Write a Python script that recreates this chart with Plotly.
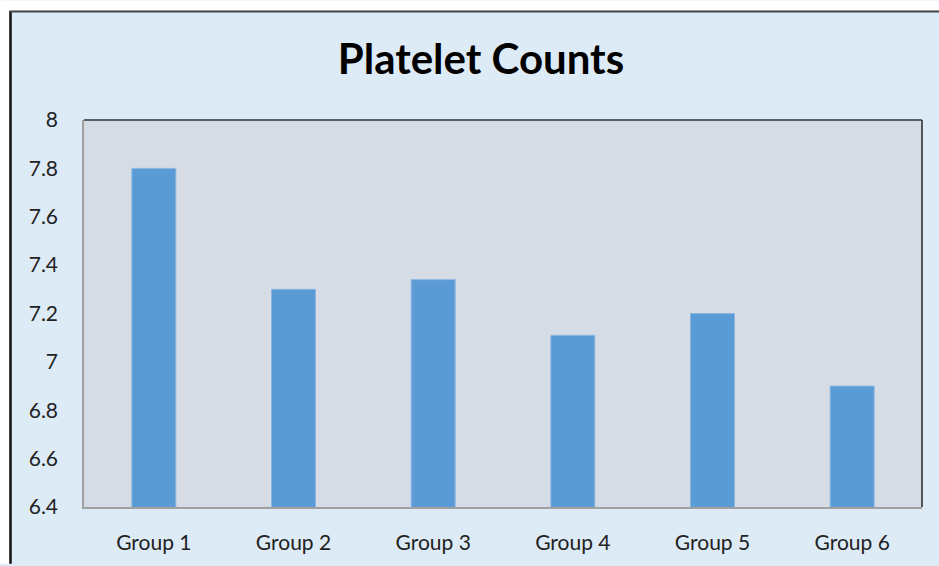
import plotly.graph_objects as go

categories = ["Group 1", "Group 2", "Group 3", "Group 4", "Group 5", "Group 6"]
values = [7.80, 7.30, 7.34, 7.11, 7.20, 6.90]
y_ticks = [6.4, 6.6, 6.8, 7.0, 7.2, 7.4, 7.6, 7.8, 8.0]
y_tick_labels = ["6.4", "6.6", "6.8", "7", "7.2", "7.4", "7.6", "7.8", "8"]

W, H = 939, 566
L, R, T, B = 84, 922, 120, 509  # plot area in pixels

def px(x):
    return (x - L) / (R - L)

def py(y):
    return (B - y) / (B - T)

fig = go.Figure()
fig.add_trace(go.Bar(
    x=categories, y=values,
    marker=dict(color="#5b9bd5", line=dict(color="#8cb6e0", width=1)),
    width=0.315,
))

shapes = [
    dict(type="rect", xref="paper", yref="paper", x0=px(0), x1=px(9), y0=py(H), y1=py(0),
         fillcolor="white", line=dict(width=0), layer="below"),
    dict(type="rect", xref="paper", yref="paper", x0=px(0), x1=px(W), y0=py(10), y1=py(0),
         fillcolor="white", line=dict(width=0), layer="below"),
    dict(type="line", xref="paper", yref="paper", x0=px(10.5), x1=px(10.5), y0=py(H), y1=py(10.5),
         line=dict(color="#111111", width=2.5)),
    dict(type="line", xref="paper", yref="paper", x0=px(9.5), x1=px(W), y0=py(11), y1=py(11),
         line=dict(color="#444444", width=2)),
    dict(type="line", xref="paper", yref="paper", x0=0, x1=1, y0=1, y1=1,
         line=dict(color="#333333", width=1.6)),
    dict(type="line", xref="paper", yref="paper", x0=1, x1=1, y0=0, y1=1,
         line=dict(color="#333333", width=1.6)),
]

fig.update_layout(
    width=W, height=H,
    margin=dict(l=L, r=W - R, t=T, b=H - B, pad=0),
    paper_bgcolor="#ddebf7",
    plot_bgcolor="#d6dce5",
    showlegend=False,
    title=dict(text="<b>Platelet Counts</b>", x=481 / W, xanchor="center",
               y=1 - 59 / H, yanchor="middle",
               font=dict(family="Lato", size=42, color="#000000")),
    font=dict(family="Lato", size=21, color="#222222"),
    shapes=shapes,
    bargap=0.685,
)
fig.update_xaxes(showgrid=False, showline=True, linecolor="#a0a0a0", linewidth=1.5,
                 ticks="", ticklabelstandoff=16, tickfont=dict(size=21))
fig.update_yaxes(range=[6.4, 8.0], tickvals=y_ticks, ticktext=y_tick_labels,
                 showgrid=False, zeroline=False, showline=True, linecolor="#a0a0a0",
                 linewidth=1.5, ticks="", ticklabelstandoff=20, tickfont=dict(size=21))

fig.write_html("out.html")
